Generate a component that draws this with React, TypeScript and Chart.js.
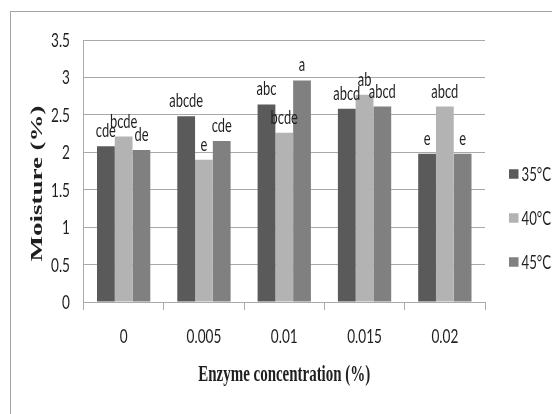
import React, { useEffect, useRef } from "react";
import { Chart, registerables } from "chart.js";

Chart.register(...registerables);

// ---- data ----
const categories = ["0", "0.005", "0.01", "0.015", "0.02"];
const seriesNames = ["35°C", "40°C", "45°C"];
const moisture35 = [2.08, 2.48, 2.64, 2.58, 1.98];
const moisture40 = [2.21, 1.9, 2.26, 2.77, 2.61];
const moisture45 = [2.03, 2.15, 2.96, 2.61, 1.98];
const letters35 = ["cde", "abcde", "abc", "abcd", "e"];
const letters40 = ["bcde", "e", "bcde", "ab", "abcd"];
const letters45 = ["de", "cde", "a", "abcd", "e"];
const yTickLabels = ["0", "0.5", "1", "1.5", "2", "2.5", "3", "3.5"];
const xTitle = "Enzyme concentration (%)";
const yTitle = "Moisture (%)";

const seriesValues = [moisture35, moisture40, moisture45];
const seriesLetters = [letters35, letters40, letters45];
const seriesColors = ["#5a5a5a", "#b3b3b3", "#808080"];

const TEXT = "#1f1f1f";
const GRID = "#a9a9a9";
const SANS = "Lato, 'Noto Sans', sans-serif";
const SERIF = "'Liberation Serif', 'DejaVu Serif', serif";

function drawText(
  ctx: CanvasRenderingContext2D,
  text: string,
  x: number,
  y: number,
  font: string,
  align: CanvasTextAlign,
  sx: number
) {
  ctx.save();
  ctx.translate(x, y);
  ctx.scale(sx, 1);
  ctx.font = font;
  ctx.fillStyle = TEXT;
  ctx.textAlign = align;
  ctx.textBaseline = "alphabetic";
  ctx.fillText(text, 0, 0);
  ctx.restore();
}

const decorPlugin = {
  id: "decor",
  beforeDraw(chart: any) {
    const ctx = chart.ctx as CanvasRenderingContext2D;
    ctx.save();
    ctx.fillStyle = "#ffffff";
    ctx.fillRect(0, 0, chart.width, chart.height);
    ctx.strokeStyle = "#a3a3a3";
    ctx.lineWidth = 1;
    ctx.strokeRect(10.5, 11.5, chart.width + 20, chart.height + 20);
    ctx.restore();
  },
  afterDraw(chart: any) {
    const ctx = chart.ctx as CanvasRenderingContext2D;
    const xs = chart.scales.x;
    const ys = chart.scales.y;
    const area = chart.chartArea;

    // y tick labels
    ys.ticks.forEach((t: any, i: number) => {
      const y = ys.getPixelForValue(t.value);
      const label = yTickLabels[i] ?? String(t.value);
      drawText(ctx, label, 70, y + 7, `20px ${SANS}`, "right", 0.68);
    });

    // x tick labels
    categories.forEach((c, i) => {
      const x = xs.getPixelForValue(i);
      drawText(ctx, c, x, 343, `20px ${SANS}`, "center", 0.68);
    });

    // letters above bars
    seriesLetters.forEach((letters, d) => {
      const meta = chart.getDatasetMeta(d);
      meta.data.forEach((bar: any, i: number) => {
        drawText(ctx, letters[i], bar.x, bar.y - 9, `19px ${SANS}`, "center", 0.68);
      });
    });

    // x title
    drawText(
      ctx,
      xTitle,
      (area.left + area.right) / 2,
      381,
      `bold 23px ${SERIF}`,
      "center",
      0.65
    );

    // y title (rotated)
    ctx.save();
    ctx.translate(42, 183.5);
    ctx.rotate(-Math.PI / 2);
    ctx.scale(1, 0.63);
    ctx.font = `bold 27px ${SERIF}`;
    ctx.fillStyle = TEXT;
    ctx.textAlign = "center";
    ctx.textBaseline = "alphabetic";
    ctx.fillText(yTitle, 0, 0);
    ctx.restore();

    // legend
    const legendY = [174, 218, 262];
    seriesNames.forEach((name, d) => {
      const cy = legendY[d];
      ctx.save();
      ctx.fillStyle = seriesColors[d];
      ctx.fillRect(509, cy - 4.75, 9.5, 9.5);
      ctx.restore();
      drawText(ctx, name, 521.5, cy + 7, `20px ${SANS}`, "left", 0.66);
    });
  },
};

export default function App() {
  const canvasRef = useRef<HTMLCanvasElement | null>(null);

  useEffect(() => {
    const canvas = canvasRef.current;
    if (!canvas) return;
    const chart = new Chart(canvas, {
      type: "bar",
      data: {
        labels: categories,
        datasets: seriesNames.map((name, d) => ({
          label: name,
          data: seriesValues[d],
          backgroundColor: seriesColors[d],
          borderWidth: 0,
          barPercentage: 1,
          categoryPercentage: 0.664,
        })),
      },
      options: {
        responsive: false,
        animation: false,
        devicePixelRatio: 1,
        layout: { padding: { left: 83.5, top: 40, right: 67, bottom: 104 } },
        plugins: {
          legend: { display: false },
          tooltip: { enabled: false },
          title: { display: false },
        },
        scales: {
          x: {
            offset: true,
            ticks: { display: false },
            grid: {
              display: true,
              offset: true,
              drawOnChartArea: false,
              drawTicks: true,
              tickLength: 8,
              color: GRID,
            },
            border: { display: true, color: GRID },
          },
          y: {
            min: 0,
            max: 3.5,
            ticks: { display: false, stepSize: 0.5 },
            grid: { color: GRID, drawTicks: false },
            border: { display: true, color: GRID },
          },
        },
      },
      plugins: [decorPlugin],
    });
    return () => chart.destroy();
  }, []);

  return (
    <div style={{ position: "absolute", left: 0, top: 0, width: 552, height: 414 }}>
      <canvas ref={canvasRef} width={552} height={414} style={{ display: "block" }} />
    </div>
  );
}
